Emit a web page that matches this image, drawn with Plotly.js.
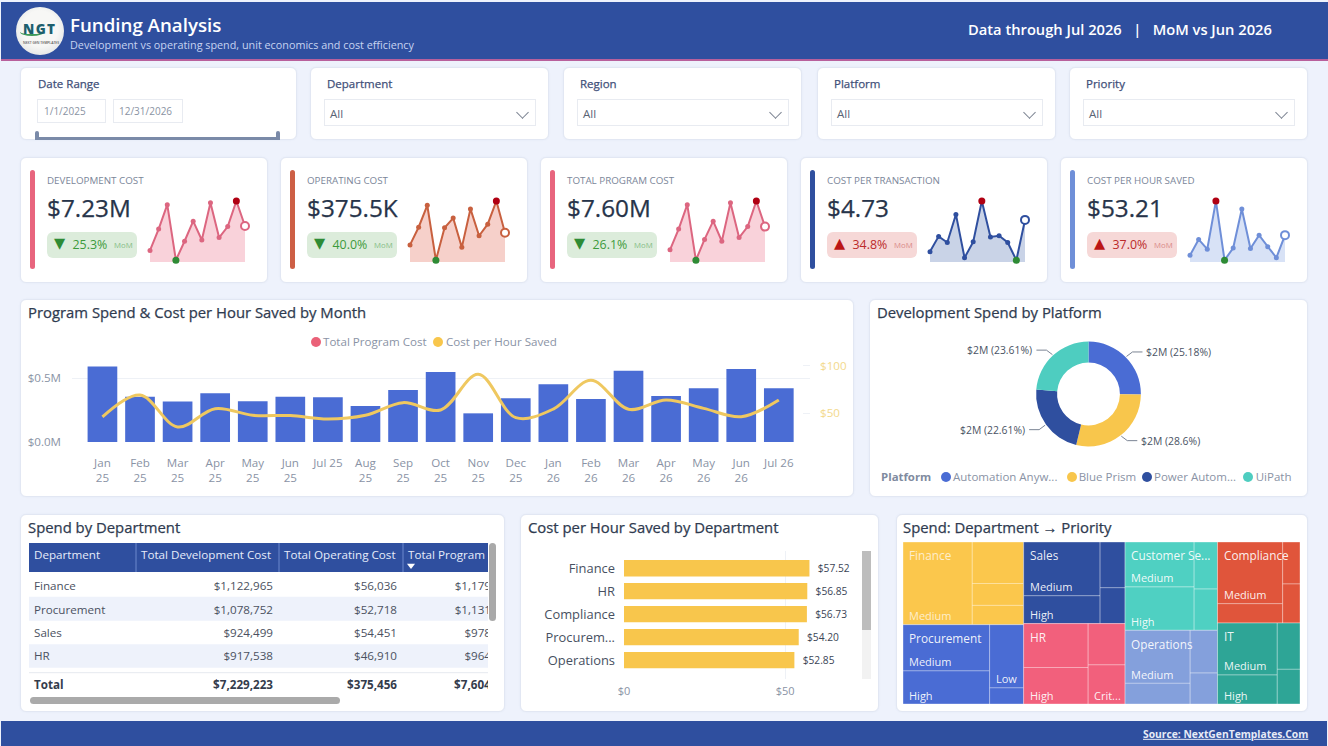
<!DOCTYPE html>
<html><head><meta charset="utf-8"><title>Funding Analysis</title>
<script src="https://cdn.plot.ly/plotly-3.0.1.min.js"></script>
<style>
html,body{margin:0;padding:0;width:1328px;height:746px;overflow:hidden;background:#fff;font-family:"Open Sans",sans-serif}
#bg{position:absolute;left:0;top:0;width:1328px;height:746px;background:#eef2fc}
.t{position:absolute;white-space:nowrap;transform:translateY(-50%);line-height:1.2}
.b{position:absolute;box-sizing:border-box}
.card{position:absolute;box-sizing:border-box;background:#fff;border:1px solid #e2e7f3;border-radius:6px;box-shadow:0 0 2px rgba(90,110,160,.08)}
.p{position:absolute}
.chev{position:absolute;width:8px;height:8px;border-right:1px solid #7a8290;border-bottom:1px solid #7a8290;transform:rotate(45deg)}
</style></head><body><div id="bg"></div><div id="root"></div>
<script>
// ---------- data ----------
const headerTitle = 'Funding Analysis';
const headerSub = 'Development vs operating spend, unit economics and cost efficiency';
const headerRight = 'Data through Jul 2026\u00a0\u00a0\u00a0|\u00a0\u00a0\u00a0MoM vs Jun 2026';
const filterNames = ['Department','Region','Platform','Priority'];

const kpiNames = ['DEVELOPMENT COST','OPERATING COST','TOTAL PROGRAM COST','COST PER TRANSACTION','COST PER HOUR SAVED'];
const kpiValues = ['$7.23M','$375.5K','$7.60M','$4.73','$53.21'];
const kpiDeltas = ['25.3%','40.0%','26.1%','34.8%','37.0%'];
const kpiGood = [true,true,true,false,false];
const kpiLine = ['#dc6680','#c8603f','#dc6680','#2f4f9f','#6f8fd8'];
const kpiBar  = ['#e8657e','#cd5f45','#e8657e','#2f4f9f','#6f8fd8'];
const kpiFill = ['#f9d2da','#f6d0ca','#f9d2da','#c9d3e7','#d8e2f6'];
const sparkDev  = [19,54,94,3,34,67,36,97,40,58,100,59];
const sparkOp   = [28,57,93,3,56,72,24,87,43,62,100,48];
const sparkProg = [20,54,94,3,37,67,34,97,40,58,100,58];
const sparkTxn  = [17,42,32,78,7,33,100,41,43,32,3,69];
const sparkHour = [11,37,21,100,3,23,87,22,44,25,7,44];

const months = ['Jan<br>25','Feb<br>25','Mar<br>25','Apr<br>25','May<br>25','Jun<br>25','Jul 25','Aug<br>25','Sep<br>25','Oct<br>25','Nov<br>25','Dec<br>25','Jan<br>26','Feb<br>26','Mar<br>26','Apr<br>26','May<br>26','Jun<br>26','Jul 26'];
const programSpend = [0.592,0.356,0.317,0.382,0.319,0.356,0.351,0.283,0.408,0.55,0.225,0.343,0.453,0.338,0.56,0.361,0.421,0.573,0.421];
const costPerHour = [46.2,69.2,35.7,54.9,47.9,47.6,44,48,61.2,53.5,90.9,45.5,54.5,84.6,54.2,64,55.2,46.5,64];
const spendTicks = [0,0.5];
const spendTickText = ['$0.0M','$0.5M'];
const hourTicks = [50,100];
const hourTickText = ['$50','$100'];

const platforms = ['Automation Anyw...','Blue Prism','Power Autom...','UiPath'];
const platformShare = [25.18,28.6,22.61,23.61];
const platformLabels = ['$2M (25.18%)','$2M (28.6%)','$2M (22.61%)','$2M (23.61%)'];
const platformColors = ['#4a6cd4','#f8c64c','#2f4f9f','#4ecdc0'];

const tableHeader = ['Department','Total Development Cost','Total Operating Cost','Total Program Cost'];
const tableDept = ['Finance','Procurement','Sales','HR'];
const tableDev = ['$1,122,965','$1,078,752','$924,499','$917,538'];
const tableOp = ['$56,036','$52,718','$54,451','$46,910'];
const tableProg = ['$1,179,001','$1,131,470','$978,950','$964,448'];
const tableTotal = ['Total','$7,229,223','$375,456','$7,604,679'];

const hourDept = ['Finance','HR','Compliance','Procurem...','Operations'];
const hourCost = [57.52,56.85,56.73,54.20,52.85];
const barTicks = [0,50];
const barTickText = ['$0','$50'];

const treeColumns = [['Finance','Procurement'],['Sales','HR'],['Customer Service','Operations'],['Compliance','IT']];
const treeShown = {'Customer Service':'Customer Se...'};
const treeColors = {Finance:'#fbc74c',Procurement:'#4a6cd4',Sales:'#2f4f9f',HR:'#f2607c','Customer Service':'#4fd0c2',Operations:'#84a0dc',Compliance:'#e0553b',IT:'#2ea596'};
const treeSpend = {
 Finance:[[677000],[252000,133000,117000]],
 Procurement:[[473000,339500],[254000,64970]],
 Sales:[[486000,252000],[135000,105950]],
 HR:[[335000,278600],[180000,170848]],
 'Customer Service':[[367000,354000],[130000,114000]],
 Operations:[[408000,159000],[138000,100000]],
 Compliance:[[475000,149000],[86000,80000]],
 IT:[[367500,205000],[124400,93100]]
};
const treeText = {
 Finance:[['Medium'],['','','']],
 Procurement:[['Medium','High'],['Low','']],
 Sales:[['Medium','High'],['','']],
 HR:[['','High'],['','Crit...']],
 'Customer Service':[['Medium','High'],['','']],
 Operations:[['Medium',''],['','']],
 Compliance:[['Medium',''],['','']],
 IT:[['Medium','High'],['','']]
};

// ---------- helpers ----------
const root = document.getElementById('root');
function el(cls,css,html){const d=document.createElement('div');d.className=cls;d.style.cssText=css;if(html!==undefined)d.innerHTML=html;root.appendChild(d);return d;}
function box(x,y,w,h,bg,extra){return el('b',`left:${x}px;top:${y}px;width:${w}px;height:${h}px;background:${bg};${extra||''}`);}
function card(x,y,w,h){return el('card',`left:${x}px;top:${y}px;width:${w}px;height:${h}px`);}
function text(s,x,y,size,color,weight,extra){return el('t',`left:${x}px;top:${y}px;font-size:${size}px;color:${color};font-weight:${weight||400};${extra||''}`,s);}
function plotDiv(x,y,w,h){return el('p',`left:${x}px;top:${y}px;width:${w}px;height:${h}px`);}
const FONT='"Open Sans", sans-serif';
const cfg={staticPlot:true,displayModeBar:false};
const MEDIUM='-webkit-text-stroke:0.25px currentColor';

// ---------- header / footer ----------
box(1,2,1327,57,'#2f4f9f');
box(1,59,1327,1.5,'#b8609c');
box(1,721,1326,25,'#2f4f9f');
el('b','left:16px;top:7px;width:48px;height:48px;border-radius:50%;background:radial-gradient(circle at 50% 45%,#f7f7f5 50%,#d5d8da 100%)');
el('b','left:20px;top:28px;width:24px;height:8px;border-bottom:2px solid #3f9a5a;border-radius:0 0 50% 50%');
text('NGT',23,29,13.5,'#1d5f6e',800,'letter-spacing:1.4px');
text('NEXT GEN TEMPLATES',23,43,3.4,'#555',600);
text(headerTitle,70,25,18.7,'#fff',600);
text(headerSub,70,45,10.8,'#c7d4f1',400);
text(headerRight,968,30,14.7,'#fff',600);
text('Source: NextGenTemplates.Com',1143,734,10.3,'#e6ebf7',700,'text-decoration:underline');

// ---------- filters ----------
card(20,67,277,73);
text('Date Range',38,84,11.5,'#3f5079',500,MEDIUM);
box(37,99,69,24,'#fff','border:1px solid #e8ebf1');
box(113,99,70,24,'#fff','border:1px solid #e8ebf1');
text('1/1/2025',44,111,10,'#8a93a3');
text('12/31/2026',119,111,10,'#8a93a3');
box(36,137,244,3,'#7a8aa8');
box(35,131,4,9,'#7a8aa8','border-radius:2px 2px 0 0');
box(276,131,4,9,'#7a8aa8','border-radius:2px 2px 0 0');
const filterX=[310,563,817,1069];
const filterW=[239,239,239,239];
filterNames.forEach((n,i)=>{
  const x=filterX[i];
  card(x,67,filterW[i],73);
  text(n,x+17,84,11.5,'#3f5079',500,MEDIUM);
  box(x+13.5,99,212,27,'#fff','border:1px solid #e8ebf1');
  text('All',x+20,114,11.5,'#5a6475');
  el('chev',`left:${x+208}px;top:108px`);
});

// ---------- KPI cards ----------
const cardLeft=[20,280,540,800,1060];
const sparks=[sparkDev,sparkOp,sparkProg,sparkTxn,sparkHour];
kpiNames.forEach((n,i)=>{
  const x=cardLeft[i], good=kpiGood[i];
  card(x,157,248,126);
  box(x+10,170,5,99,kpiBar[i],'border-radius:3px');
  text(n,x+27,180.5,9.8,'#7b8699',400);
  text(kpiValues[i],x+27,208,24.3,'#27344a',500,MEDIUM);
  box(x+27,232,89.5,25.5,good?'#dcecdb':'#f6d8d7','border-radius:6px');
  text(good?'\u25BC':'\u25B2',x+34,244,14.5,good?'#2e8b35':'#bb1616',400,'font-family:"DejaVu Sans"');
  text(kpiDeltas[i],x+52.5,245,12.4,good?'#3c9a3c':'#bb2a2a',400);
  text('MoM',x+94,246,7.8,good?'#86bd88':'#d98a8a',400);
  const v=sparks[i], hi=v.indexOf(Math.max(...v)), lo=v.indexOf(Math.min(...v)), last=v.length-1;
  const cols=v.map((_,k)=>k===hi?'#b00012':k===lo?'#2e8b35':k===last?'#fff':kpiLine[i]);
  const sizes=v.map((_,k)=>k===hi||k===lo?7:k===last?8:5);
  const lw=v.map((_,k)=>k===last?2:0);
  const d=plotDiv(x+119.7,190.7,115.3,81);
  Plotly.newPlot(d,[{x:v.map((_,k)=>k),y:v,type:'scatter',mode:'lines+markers',fill:'tozeroy',fillcolor:kpiFill[i],
    line:{color:kpiLine[i],width:2},cliponaxis:false,
    marker:{color:cols,size:sizes,opacity:1,line:{color:kpiLine[i],width:lw}}}],
   {margin:{l:10,r:10,t:10,b:10},width:115.3,height:81,paper_bgcolor:'rgba(0,0,0,0)',plot_bgcolor:'rgba(0,0,0,0)',showlegend:false,
    xaxis:{visible:false,range:[0,11],fixedrange:true},yaxis:{visible:false,range:[0,100],fixedrange:true}},cfg);
});

// ---------- combo chart ----------
const TITLE=14.85;
card(20,299,834,198);
text('Program Spend &amp; Cost per Hour Saved by Month',28,312.5,TITLE,'#2f3b50',500,MEDIUM);
el('b','left:311px;top:337px;width:10px;height:10px;border-radius:50%;background:#ea6178');
text('Total Program Cost',323,342,11.6,'#8a93a5');
el('b','left:433px;top:337px;width:10px;height:10px;border-radius:50%;background:#f8c64c');
text('Cost per Hour Saved',446,342,11.6,'#8a93a5');
const gridC='#eef1f6', tickC='#8a93a5';
Plotly.newPlot(plotDiv(20,299,834,198),[
 {x:months,y:programSpend,type:'bar',marker:{color:'#4a6cd4'},name:'Total Program Cost'},
 {x:months,y:costPerHour,type:'scatter',mode:'lines',yaxis:'y2',name:'Cost per Hour Saved',
  line:{color:'#efc860',width:3,shape:'spline',smoothing:1}}
],{width:834,height:198,margin:{l:52,r:44,t:56,b:55},paper_bgcolor:'rgba(0,0,0,0)',plot_bgcolor:'rgba(0,0,0,0)',showlegend:false,bargap:0.21,
 font:{family:FONT},
 xaxis:{type:'category',range:[-0.81,18.83],tickmode:'array',tickvals:months,ticktext:months,tickangle:0,ticks:'',tickfont:{size:11.6,color:tickC},ticklabelstandoff:12,showgrid:false,zeroline:false,showline:false},
 yaxis:{range:[0,0.683],tickmode:'array',tickvals:spendTicks,ticktext:spendTickText,tickfont:{size:11.6,color:tickC},gridcolor:gridC,zeroline:false,ticklabelstandoff:10,ticks:''},
 yaxis2:{overlaying:'y',side:'right',range:[19.9,111.2],tickmode:'array',tickvals:hourTicks,ticktext:hourTickText,tickfont:{size:11.6,color:'#f3d98c'},showgrid:false,zeroline:false,ticks:'inside',ticklen:7,tickcolor:gridC,ticklabelstandoff:9}
},cfg);

// ---------- donut ----------
card(869,299,439,198);
text('Development Spend by Platform',877,312.5,TITLE,'#2f3b50',500,MEDIUM);
(function(){
 const W=439,H=130,cx=219.5,cy=64,R=52.4;
 const anns=[],shapes=[];let cum=0;const tot=platformShare.reduce((a,b)=>a+b,0);
 platformShare.forEach((s,i)=>{
  const a=(cum+s/2)/tot*2*Math.PI;cum+=s;
  const sx=Math.sin(a),sy=-Math.cos(a),sgx=sx>=0?1:-1,sgy=sy>=0?1:-1;
  const x0=cx+sx*(R+1),y0=cy+sy*(R+1),x1=x0+sgx*6,y1=y0+sgy*4.5,x2=x1+sgx*10;
  shapes.push({type:'path',xref:'paper',yref:'paper',path:`M ${x0/W} ${1-y0/H} L ${x1/W} ${1-y1/H} L ${x2/W} ${1-y1/H}`,line:{color:'#7b8494',width:1}});
  anns.push({xref:'paper',yref:'paper',x:(x2+sgx*4)/W,y:1-y1/H,xanchor:sgx>0?'left':'right',yanchor:'middle',showarrow:false,text:platformLabels[i],font:{size:10.4,color:'#4a5364',family:FONT},borderpad:0,borderwidth:0});
 });
 Plotly.newPlot(plotDiv(869,330,W,H),[{type:'pie',values:platformShare,labels:platforms,hole:0.6,sort:false,direction:'clockwise',rotation:0,textinfo:'none',
   marker:{colors:platformColors,line:{width:0}},domain:{x:[(cx-R)/W,(cx+R)/W],y:[(H-cy-R)/H,(H-cy+R)/H]}}],
  {width:W,height:H,margin:{l:0,r:0,t:0,b:0},paper_bgcolor:'rgba(0,0,0,0)',showlegend:false,annotations:anns,shapes:shapes,font:{family:FONT}},cfg);
})();
text('Platform',881,477,11.4,'#7f8ba0',700);
const legDot=[946,1071.7,1146.7,1248], legTxt=[953,1078.7,1154,1255.7];
platforms.forEach((p,i)=>{
 el('b',`left:${legDot[i]-5}px;top:472px;width:10px;height:10px;border-radius:50%;background:${platformColors[i]}`);
 text(p,legTxt[i],477,11.5,'#8a93a5');
});

// ---------- table (library text marks on pixel-unit axes) ----------
card(20,514,485,198);
text('Spend by Department',28,527.5,TITLE,'#2f3b50',500,MEDIUM);
(function(){
 const W=459,H=149;                  // plot area spans x 29..488, y 543..692
 const colStart=[0,107,250,374], colEnd=[107,250,374,491];
 const rowY=[13,44,68,91.5,114.5,143];
 const shapes=[
  {type:'rect',xref:'x',yref:'y',x0:0,x1:W,y0:-1,y1:29,fillcolor:'#2f4f9f',line:{width:0},layer:'below'},
  {type:'rect',xref:'x',yref:'y',x0:0,x1:W,y0:53.7,y1:77.7,fillcolor:'#eef2fb',line:{width:0},layer:'below'},
  {type:'rect',xref:'x',yref:'y',x0:0,x1:W,y0:101.3,y1:124.7,fillcolor:'#eef2fb',line:{width:0},layer:'below'},
  {type:'line',xref:'x',yref:'y',x0:0,x1:W,y0:129.7,y1:129.7,line:{color:'#e6e9ef',width:1},layer:'below'}
 ];
 [107,250,374].forEach(c=>shapes.push({type:'line',xref:'x',yref:'y',x0:c,x1:c,y0:0,y1:29,line:{color:'#6d89cd',width:1},layer:'below'}));
 const traces=[];
 const TF=(size,color)=>({size:size,color:color,family:FONT});
 const FS=11.65;
 traces.push({type:'scatter',mode:'text',x:colStart.map(c=>c+5),y:tableHeader.map(()=>rowY[0]),text:tableHeader,textposition:'middle right',textfont:TF(FS,'#e6ecfa'),cliponaxis:true});
 traces.push({type:'scatter',mode:'text',x:tableDept.map(()=>5),y:rowY.slice(1,5),text:tableDept,textposition:'middle right',textfont:TF(FS,'#4b5160'),cliponaxis:true});
 [tableDev,tableOp,tableProg].forEach((col,k)=>traces.push({type:'scatter',mode:'text',x:col.map(()=>colEnd[k+1]-6),y:rowY.slice(1,5),text:col,textposition:'middle left',textfont:TF(FS,'#4b5160'),cliponaxis:true}));
 traces.push({type:'scatter',mode:'text',x:[5],y:[rowY[5]],text:['<b>'+tableTotal[0]+'</b>'],textposition:'middle right',textfont:TF(FS,'#343c4c'),cliponaxis:true});
 traces.push({type:'scatter',mode:'text',x:colEnd.slice(1).map(c=>c-6),y:tableTotal.slice(1).map(()=>rowY[5]),text:tableTotal.slice(1).map(t=>'<b>'+t+'</b>'),textposition:'middle left',textfont:TF(FS,'#343c4c'),cliponaxis:true});
 traces.push({type:'scatter',mode:'markers',x:[382],y:[22.5],marker:{symbol:'triangle-down',size:7,color:'#fff'}});
 Plotly.newPlot(plotDiv(29,543,W,H),traces,{width:W,height:H,margin:{l:0,r:0,t:0,b:0},paper_bgcolor:'rgba(0,0,0,0)',plot_bgcolor:'rgba(0,0,0,0)',showlegend:false,shapes:shapes,
  xaxis:{visible:false,range:[0,W],fixedrange:true},yaxis:{visible:false,range:[H,0],fixedrange:true}},cfg);
})();
box(489.3,543,7,77.5,'#a9a9a9','border-radius:3.5px');
box(30.3,696.5,310,7.5,'#aaa','border-radius:3.7px');

// ---------- horizontal bars ----------
card(520,514,359,198);
text('Cost per Hour Saved by Department',528,527.5,TITLE,'#2f3b50',500,MEDIUM);
Plotly.newPlot(plotDiv(520,514,359,198),[{type:'bar',orientation:'h',x:hourCost,y:hourDept,marker:{color:'#f8c64c'},
  texttemplate:'\u00a0\u00a0%{x:$.2f}',textposition:'outside',textfont:{size:10.2,color:'#3b4556',family:FONT},cliponaxis:false,constraintext:'none'}],
 {width:359,height:198,margin:{l:104.3,r:19,t:36.7,b:32.7},paper_bgcolor:'rgba(0,0,0,0)',plot_bgcolor:'rgba(0,0,0,0)',showlegend:false,bargap:0.29,font:{family:FONT},
  xaxis:{range:[0,73.2],tickmode:'array',tickvals:barTicks,ticktext:barTickText,tickfont:{size:11,color:'#8a93a5'},gridcolor:gridC,zeroline:false,ticks:'',ticklabelstandoff:4},
  yaxis:{type:'category',range:[4.82,-0.75],tickfont:{size:12.9,color:'#475061'},showgrid:false,zeroline:false,ticks:'',ticklabelstandoff:8}},cfg);
box(861.7,550.7,9,128.6,'#f2f2f2');
box(861.7,550.7,9,79.3,'#bdbdbd');

// ---------- treemap ----------
card(896,514,412,198);
text('Spend: Department \u2192 Priority',903,527.5,TITLE,'#2f3b50',500,MEDIUM);
(function(){
 const W=397,H=162;
 const ids=['root'],labels=['Spend'],parents=[''],values=[0],colors=['#fff'];
 const sum=a=>a.flat().reduce((p,c)=>p+c,0);
 const total=treeColumns.flat().reduce((p,d)=>p+sum(treeSpend[d]),0);
 const anns=[];
 const ann=(s,xpx,ypx,col,size)=>anns.push({xref:'paper',yref:'paper',x:xpx/W,y:1-ypx/H,xanchor:'left',yanchor:'middle',showarrow:false,text:s,font:{size:size,color:col,family:FONT},borderpad:0});
 let cx=0;
 treeColumns.forEach((col,ci)=>{
  const cid='c'+ci,colTotal=col.reduce((p,d)=>p+sum(treeSpend[d]),0),cw=W*colTotal/total;
  ids.push(cid);labels.push(cid);parents.push('root');values.push(0);colors.push(treeColors[col[0]]);
  let cy=0;
  col.forEach(dept=>{
   const did=cid+'/'+dept,dt=sum(treeSpend[dept]),dh=H*dt/colTotal,c=treeColors[dept];
   const tc=dept==='Finance'?'rgba(255,255,255,.72)':'rgba(255,255,255,.92)';
   ids.push(did);labels.push(dept);parents.push(cid);values.push(0);colors.push(c);
   let gx=0;
   treeSpend[dept].forEach((grp,gi)=>{
    const gid=did+'/g'+gi,gt=grp.reduce((p,q)=>p+q,0),gw=cw*gt/dt;
    ids.push(gid);labels.push('g'+gi);parents.push(did);values.push(0);colors.push(c);
    let ly=0;
    grp.forEach((v,li)=>{
     const s=treeText[dept][gi][li];
     ids.push(gid+'/'+li);labels.push(s||'Other');parents.push(gid);values.push(v);colors.push(c);
     ly+=dh*v/gt;
     if(s) ann(s,cx+gx+5.2,cy+ly-9,tc,11);
    });
    gx+=gw;
   });
   ann(treeShown[dept]||dept,cx+5.2,cy+13.4,tc,11.8);
   cy+=dh;
  });
  cx+=cw;
 });
 Plotly.newPlot(plotDiv(903,542.3,W,H),[{type:'treemap',ids:ids,labels:labels,parents:parents,values:values,branchvalues:'remainder',sort:false,textinfo:'none',
   tiling:{packing:'slice-dice',pad:0},pathbar:{visible:false},
   marker:{colors:colors,depthfade:false,pad:{t:0,l:0,r:0,b:0},line:{color:'rgba(255,255,255,.35)',width:1}},leaf:{opacity:1}}],
  {width:W,height:H,margin:{l:0,r:0,t:0,b:0},paper_bgcolor:'rgba(0,0,0,0)',annotations:anns,font:{family:FONT}},cfg);
})();
</script></body></html>
